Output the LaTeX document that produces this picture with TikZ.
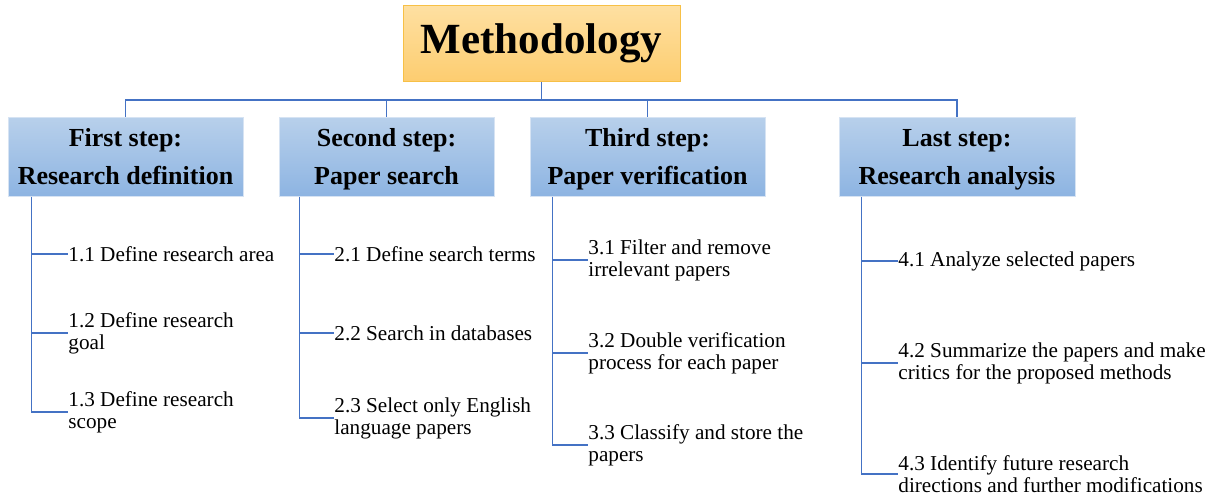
\documentclass[tikz,border=0pt]{standalone}
\usepackage{fontspec}
\setmainfont{Liberation Serif}
\usetikzlibrary{calc}
\definecolor{ln}{HTML}{4472C4}
\definecolor{steptop}{HTML}{B8D0EB}
\definecolor{stepbot}{HTML}{8DB4E2}
\definecolor{stepborder}{HTML}{D6E3F3}
\definecolor{ttop}{HTML}{FEE0A2}
\definecolor{tbot}{HTML}{FDCD70}
\definecolor{tborder}{HTML}{F7C046}
\newcommand{\liftline}{\rule{0pt}{12pt}}
\begin{document}
\begin{tikzpicture}[x=0.5pt,y=-0.5pt,
  conn/.style={draw=ln, line width=0.65pt},
  stepbox/.style={draw=stepborder, line width=0.5pt, top color=steptop, bottom color=stepbot,
    minimum height=39.5pt, align=center, inner sep=0pt,
    font=\fontsize{13}{19}\selectfont\bfseries},
  titlebox/.style={draw=tborder, line width=0.5pt, top color=ttop, bottom color=tbot,
    minimum width=138.5pt, minimum height=38pt, inner sep=0pt,
    font=\fontsize{21.5}{24}\selectfont\bfseries},
  item/.style={anchor=west, align=left, inner sep=0pt,
    font=\fontsize{10.6}{11}\selectfont}]
\useasboundingbox (0,0) rectangle (1219,499);

\node[titlebox] (m) at (541.5,43) {Methodology};

\node[stepbox, minimum width=117.5pt] (s1) at (125.5,156.5) {\liftline First step:\\Research definition\vphantom{y}};
\node[stepbox, minimum width=107.5pt] (s2) at (386.5,156.5) {\liftline Second step:\\Paper search\vphantom{y}};
\node[stepbox, minimum width=117.5pt] (s3) at (647.5,156.5) {\liftline Third step:\\Paper verification\vphantom{y}};
\node[stepbox, minimum width=118pt] (s4) at (957,156.5) {\liftline Last step:\\Research analysis\vphantom{y}};

\coordinate (bus) at (541.5,100);
\draw[conn] (m.south) -- (bus);
\draw[conn] (s1.north) |- (bus) -| (s4.north);
\draw[conn] (s2.north) -- (s2.north |- bus);
\draw[conn] (s3.north) -- (s3.north |- bus);

% items
\node[item] (t11) at (68,254) {1.1 Define research area};
\node[item] (t12) at (68,333) {1.2 Define research\\goal};
\node[item] (t13) at (68,412) {1.3 Define research\\scope};
\node[item] (t21) at (334,254) {2.1 Define search terms};
\node[item] (t22) at (334,333) {2.2 Search in databases};
\node[item] (t23) at (334,418) {2.3 Select only English\\language papers};
\node[item] (t31) at (588,260) {3.1 Filter and remove\\irrelevant papers};
\node[item] (t32) at (588,353) {3.2 Double verification\\process for each paper};
\node[item] (t33) at (588,445) {3.3 Classify and store the\\papers};
\node[item] (t41) at (898,261) {4.1 Analyze selected papers};
\node[item] (t42) at (898,363) {4.2 Summarize the papers and make\\critics for the proposed methods};
\node[item] (t43) at (898,474) {4.3 Identify future research\\directions and further modifications};

\coordinate (v1) at ([xshift=12pt]s1.south west);
\coordinate (v2) at ([xshift=10.5pt]s2.south west);
\coordinate (v3) at ([xshift=11.5pt]s3.south west);
\coordinate (v4) at ([xshift=11.5pt]s4.south west);

\draw[conn] (v1) |- (t13.west);
\draw[conn] (t11.west -| v1) -- (t11.west);
\draw[conn] (t12.west -| v1) -- (t12.west);

\draw[conn] (v2) |- (t23.west);
\draw[conn] (t21.west -| v2) -- (t21.west);
\draw[conn] (t22.west -| v2) -- (t22.west);

\draw[conn] (v3) |- (t33.west);
\draw[conn] (t31.west -| v3) -- (t31.west);
\draw[conn] (t32.west -| v3) -- (t32.west);

\draw[conn] (v4) |- (t43.west);
\draw[conn] (t41.west -| v4) -- (t41.west);
\draw[conn] (t42.west -| v4) -- (t42.west);
\end{tikzpicture}
\end{document}
